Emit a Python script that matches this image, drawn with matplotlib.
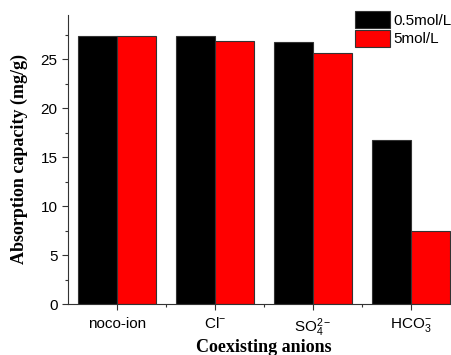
import numpy as np
import matplotlib.pyplot as plt
from matplotlib.ticker import MultipleLocator, FixedLocator

# -------------------------
# DATA
# -------------------------
categories = ["noco-ion", "Cl$^{-}$", "SO$_4^{2-}$", "HCO$_3^{-}$"]
low_conc = [27.4, 27.4, 26.7, 16.7]    # 0.5mol/L
high_conc = [27.4, 26.8, 25.6, 7.5]    # 5mol/L
series_names = ["0.5mol/L", "5mol/L"]

plt.rcParams['font.family'] = 'Liberation Sans'
plt.rcParams['mathtext.fontset'] = 'custom'
plt.rcParams['mathtext.rm'] = 'Liberation Sans'
plt.rcParams['mathtext.it'] = 'Liberation Sans'

# -------------------------
# PLOT
# -------------------------
fig = plt.figure(figsize=(4.51, 3.55), dpi=100)
ax = fig.add_axes([68 / 451, 51 / 355, 392 / 451, 289 / 355])

x = np.arange(len(categories))
w = 0.4
ax.bar(x - w / 2, low_conc, w, color='black', edgecolor='#333333', linewidth=0.8,
       label=series_names[0])
ax.bar(x + w / 2, high_conc, w, color='#ff0000', edgecolor='#333333', linewidth=0.8,
       label=series_names[1])

ax.set_xlim(-0.5, 3.5)
ax.set_ylim(0, 29.5)
ax.set_xticks(x)
ax.set_xticklabels(categories, fontsize=11)
ax.xaxis.set_minor_locator(FixedLocator(x[:-1] + 0.5))
ax.yaxis.set_major_locator(MultipleLocator(5))
ax.yaxis.set_minor_locator(MultipleLocator(2.5))
ax.tick_params(axis='both', which='major', direction='out', length=4, width=0.8,
               labelsize=11, color='#333333')
ax.tick_params(axis='x', which='major', pad=5)
ax.tick_params(axis='both', which='minor', direction='out', length=2, width=0.8,
               color='#333333')

for s in ['top', 'right']:
    ax.spines[s].set_visible(False)
for s in ['left', 'bottom']:
    ax.spines[s].set_linewidth(0.8)
    ax.spines[s].set_color('#333333')

ax.set_ylabel("Absorption capacity (mg/g)", fontsize=13, fontweight='bold',
              family='Liberation Serif', labelpad=9)
ax.set_xlabel("Coexisting anions", fontsize=13, fontweight='bold',
              family='Liberation Serif', labelpad=0)

fig.legend(loc='upper left', bbox_to_anchor=(355 / 451, 1 - 11 / 355),
           bbox_transform=fig.transFigure, frameon=False, fontsize=11,
           borderpad=0, borderaxespad=0, handlelength=2.3, handleheight=1.35,
           handletextpad=0.2, labelspacing=0.1)

fig.savefig("out.png", dpi=100)
